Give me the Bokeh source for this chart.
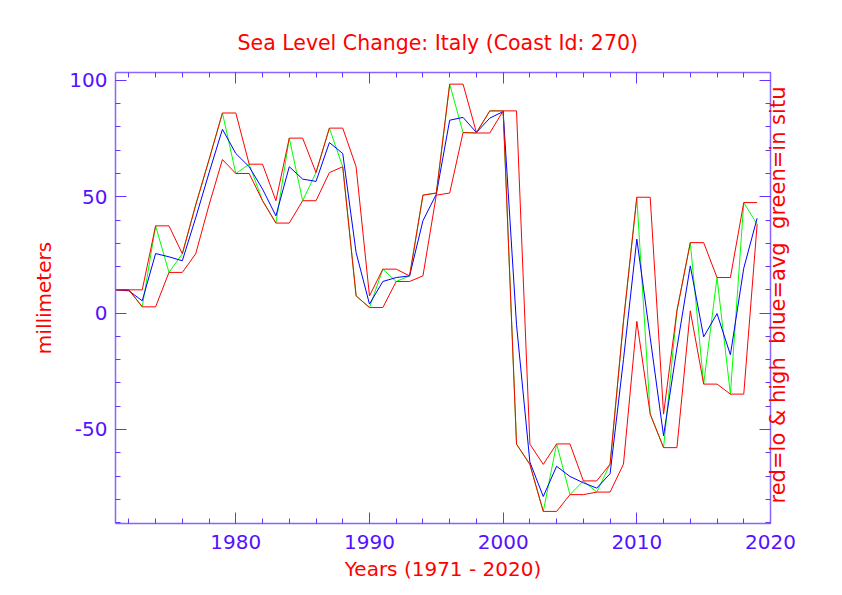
import math
from bokeh.plotting import figure
from bokeh.models import (LinearAxis, SingleIntervalTicker, Range1d,
                          NumeralTickFormatter, CustomJSTickFormatter)
from bokeh.embed import file_html
from bokeh.resources import INLINE

years = list(range(1971, 2020))

in_situ = [10.0, 10.0, 2.7, 37.5, 17.5, 25.5, 46.5, 66.0, 86.0, 60.0,
           64.0, 48.3, 38.7, 75.2, 48.3, 60.4, 79.5, 62.9, 7.4, 2.4,
           18.9, 13.6, 16.0, 50.7, 51.6, 98.4, 77.6, 77.4, 86.9, 86.9,
           -56.3, -65.0, -85.2, -56.2, -78.0, -72.1, -76.9, -64.9, -3.5, 49.8,
           -43.4, -57.8, 1.0, 30.3, -30.5, 15.3, -34.8, 47.5, 38.2]

high = [10.0, 10.0, 10.0, 37.5, 37.5, 25.5, 46.5, 66.0, 86.0, 86.0,
        64.0, 64.0, 48.3, 75.2, 75.2, 60.4, 79.5, 79.5, 62.9, 7.4,
        18.9, 18.9, 16.0, 50.7, 51.6, 98.4, 98.4, 77.6, 86.9, 86.9,
        86.9, -56.3, -65.0, -56.2, -56.2, -72.1, -72.1, -64.9, -3.5, 49.8,
        49.8, -43.4, 1.0, 30.3, 30.3, 15.3, 15.3, 47.5, 47.5]

low = [10.0, 10.0, 2.7, 2.7, 17.5, 17.5, 25.5, 46.5, 66.0, 60.0,
       60.0, 48.3, 38.7, 38.7, 48.3, 48.3, 60.4, 62.9, 7.4, 2.4,
       2.4, 13.6, 13.6, 16.0, 50.7, 51.6, 77.6, 77.4, 77.4, 86.9,
       -56.3, -65.0, -85.2, -85.2, -78.0, -78.0, -76.9, -76.9, -64.9, -3.5,
       -43.4, -57.8, -57.8, 1.0, -30.5, -30.5, -34.8, -34.8, 38.2]

avg = [10.0, 9.6, 5.3, 25.6, 24.2, 22.5, 41.0, 60.3, 79.0, 68.6,
       62.9, 53.3, 41.8, 62.9, 57.6, 56.6, 73.3, 68.6, 26.0, 3.9,
       13.6, 15.3, 16.0, 39.7, 51.1, 82.9, 84.1, 77.6, 83.8, 86.6,
       -5.0, -64.0, -78.8, -65.8, -70.2, -72.9, -75.2, -69.0, -20.0, 31.8,
       -10.5, -52.7, -15.0, 20.3, -10.2, -0.2, -17.9, 19.3, 40.8]

NBSP = "\u00a0"
title_text = "Sea Level Change: Italy (Coast Id: 270)"
x_label = "Years (1971 - 2020)"
y_label = "millimeters"
side_text = NBSP * 3 + "red=lo & high" + NBSP * 2 + "blue=avg" + NBSP * 2 + "green=in situ"

FONT = "DejaVu Sans"
TICK_COLOR = "#6633ff"
LABEL_COLOR = "#5511ff"
AXIS_COLOR = "#8866ff"

FW, FH = 655, 451
TOP, BOTTOM = 72, 62

p = figure(frame_width=FW, frame_height=FH,
           min_border_left=115, min_border_right=30,
           min_border_top=TOP, min_border_bottom=BOTTOM,
           x_range=Range1d(1971, 2020), y_range=Range1d(-90.4, 103.4),
           x_axis_location=None, y_axis_location=None,
           output_backend="svg", toolbar_location=None,
           background_fill_color="white", border_fill_color="white")
p.grid.grid_line_color = None
p.outline_line_color = None

p.title.text = title_text
p.title.align = "left"
p.title.offset = 122
p.title.text_color = "red"
p.title.text_font = FONT
p.title.text_font_size = "20.5px"
p.title.text_font_style = "normal"
p.title.standoff = 36


def style_axis(ax, show_labels):
    ax.major_tick_in = 11
    ax.major_tick_out = 0
    ax.minor_tick_in = 5
    ax.minor_tick_out = 0
    ax.axis_line_color = AXIS_COLOR
    ax.axis_line_width = 1.5
    ax.major_tick_line_color = TICK_COLOR
    ax.minor_tick_line_color = TICK_COLOR
    ax.major_label_text_color = LABEL_COLOR
    ax.major_label_text_font = FONT
    ax.major_label_text_font_size = "20px"
    ax.axis_label_text_color = "red"
    ax.axis_label_text_font = FONT
    ax.axis_label_text_font_size = "20px"
    ax.axis_label_text_font_style = "normal"
    if show_labels:
        ax.formatter = NumeralTickFormatter(format="0")
    else:
        ax.formatter = CustomJSTickFormatter(code="return ''")
        ax.major_label_standoff = 0


xb = LinearAxis(ticker=SingleIntervalTicker(interval=10, num_minor_ticks=5),
                axis_label=x_label)
style_axis(xb, True)
xb.major_label_standoff = 11
xb.axis_label_standoff = 5
p.add_layout(xb, "below")

xt = LinearAxis(ticker=SingleIntervalTicker(interval=10, num_minor_ticks=5))
style_axis(xt, False)
p.add_layout(xt, "above")

yl = LinearAxis(ticker=SingleIntervalTicker(interval=50, num_minor_ticks=5),
                axis_label=y_label)
style_axis(yl, True)
yl.major_label_standoff = 8
yl.axis_label_standoff = 10
p.add_layout(yl, "left")

yr = LinearAxis(ticker=SingleIntervalTicker(interval=50, num_minor_ticks=5),
                axis_label=side_text)
style_axis(yr, False)
yr.axis_label_orientation = math.pi / 2
yr.axis_label_align = "start"
yr.axis_label_standoff = 7
yr.axis_label_text_font_size = "21px"
p.add_layout(yr, "right")

p.line(years, in_situ, line_color="#00ff00", line_width=1)
p.line(years, avg, line_color="#0000ff", line_width=1)
p.line(years, high, line_color="#ff0000", line_width=1)
p.line(years, low, line_color="#ff0000", line_width=1)

open("out.html", "w").write(file_html(p, INLINE))
